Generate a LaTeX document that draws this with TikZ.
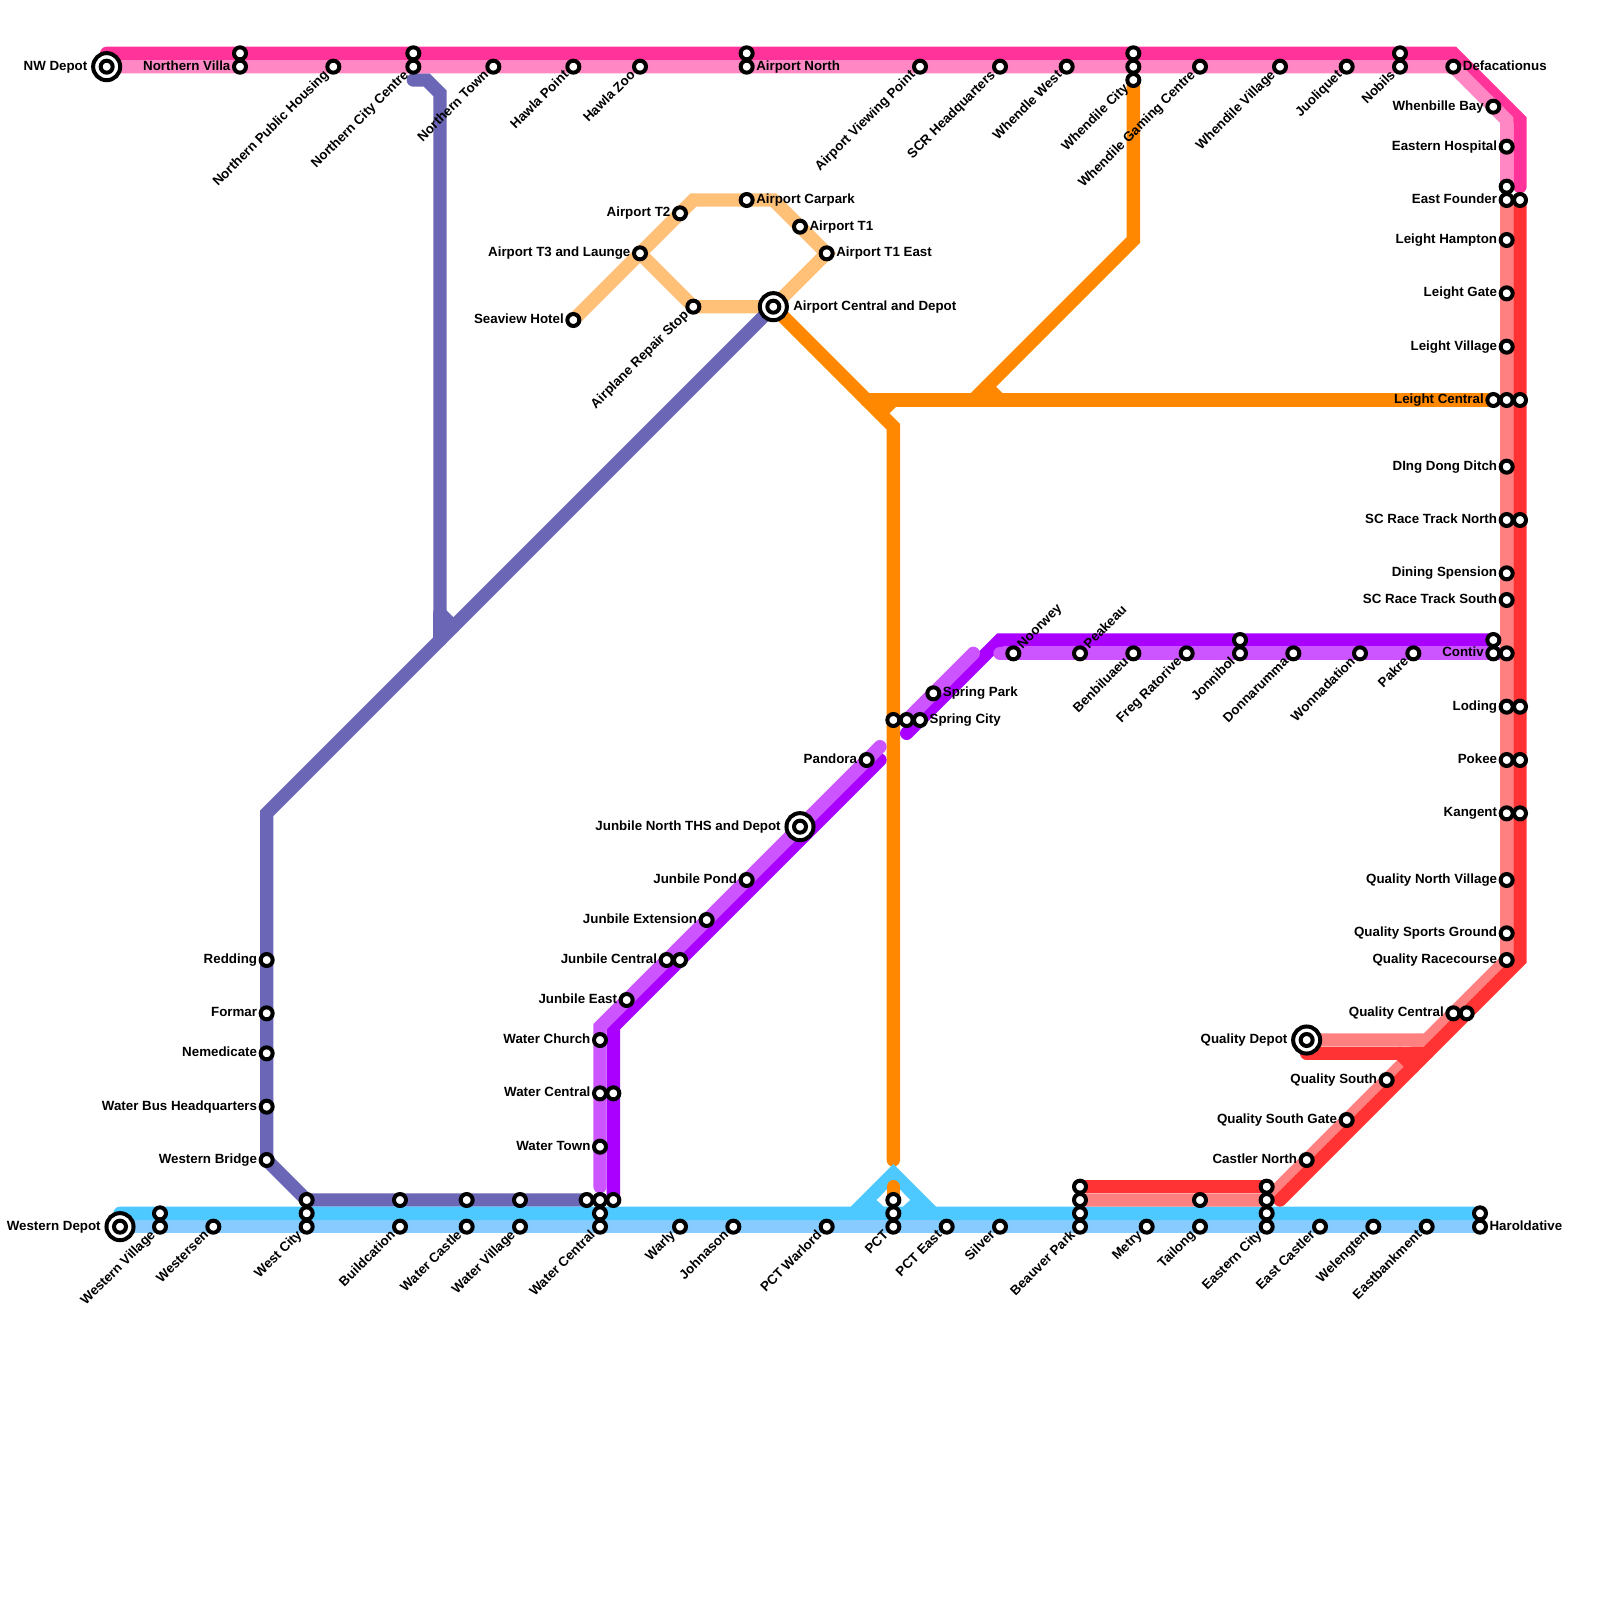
\documentclass[tikz,border=0pt]{standalone}
\usepackage{fontspec}
\setmainfont{Liberation Sans}
\pgfdeclarelayer{bg}
\pgfsetlayers{bg,main}
\definecolor{pinkD}{HTML}{FF3399}
\definecolor{pinkL}{HTML}{FF88C4}
\definecolor{redD}{HTML}{FF3333}
\definecolor{redL}{HTML}{FF8080}
\definecolor{blueD}{HTML}{4DC9FF}
\definecolor{blueL}{HTML}{88CCFF}
\definecolor{indigo}{HTML}{6B66B5}
\definecolor{orangeD}{HTML}{FF8800}
\definecolor{orangeL}{HTML}{FFC077}
\definecolor{violetD}{HTML}{AA00FF}
\definecolor{violetL}{HTML}{CC55FF}
\tikzset{
  metro/.style={line width=10pt,line cap=round,miter limit=10},
  stn/.style={circle,draw=black,fill=white,line width=3pt,minimum size=9pt,inner sep=0pt,outer sep=0pt},
  bigstn/.style={circle,draw=black,fill=white,line width=3pt,minimum size=20.3pt,inner sep=0pt,outer sep=0pt},
  lab/.style={font=\fontsize{10}{12}\selectfont\bfseries,text=black,inner sep=0pt,outer sep=0pt}
}
% plain station
\newcommand\St[3]{\node[stn] (#1) at (#2,#3) {};}
% station with label left / right / down-left (rotated) / up-right (rotated)
\newcommand\SL[4]{\St{#1}{#2}{#3}\node[lab,anchor=mid east] (#1t) at ([shift={(-.72,0)}]#1.center) {#4};}
\newcommand\SR[4]{\St{#1}{#2}{#3}\node[lab,anchor=mid west] (#1t) at ([shift={(.72,0)}]#1.center) {#4};}
\newcommand\SD[4]{\St{#1}{#2}{#3}\node[lab,anchor=mid east,rotate=45] (#1t) at ([shift={(-.5,.5)}]#1.center) {#4};}
\newcommand\SU[4]{\St{#1}{#2}{#3}\node[lab,anchor=mid west,rotate=45] (#1t) at ([shift={(.5,-.5)}]#1.center) {#4};}
% depot: large ring with small ring inside
\newcommand\DepRing[3]{\node[bigstn] (#1o) at (#2,#3) {};\St{#1}{#2}{#3}}
\begin{document}
\begin{tikzpicture}[x=10pt,y=-10pt]
\useasboundingbox (0,0) rectangle (120,120);
% ---------- top row
\DepRing{nw}{8}{5}\node[lab,anchor=mid east] (nwt) at ([shift={(-1.45,0)}]nw.center) {NW Depot};
\St{nva}{18}{4}\SL{nvb}{18}{5}{Northern Villa}
\SD{nph}{25}{5}{Northern Public Housing}
\St{ncca}{31}{4}\SD{nccb}{31}{5}{Northern City Centre}
\SD{nto}{37}{5}{Northern Town}
\SD{hpo}{43}{5}{Hawla Point}
\SD{hzo}{48}{5}{Hawla Zoo}
\St{ana}{56}{4}\SR{anb}{56}{5}{Airport North}
\SD{avp}{69}{5}{Airport Viewing Point}
\SD{scr}{75}{5}{SCR Headquarters}
\SD{wwe}{80}{5}{Whendle West}
\St{wca}{85}{4}\St{wcb}{85}{5}\SD{wcc}{85}{6}{Whendile City}
\SD{wgc}{90}{5}{Whendile Gaming Centre}
\SD{wvi}{96}{5}{Whendile Village}
\SD{juo}{101}{5}{Juoliquet}
\St{noa}{105}{4}\SD{nob}{105}{5}{Nobils}
\SR{def}{109}{5}{Defacationus}
% ---------- east side
\SL{wby}{112}{8}{Whenbille Bay}
\SL{ehs}{113}{11}{Eastern Hospital}
\St{efa}{113}{14}\SL{efb}{113}{15}{East Founder}\St{efc}{114}{15}
\SL{lha}{113}{18}{Leight Hampton}
\SL{lga}{113}{22}{Leight Gate}
\SL{lvi}{113}{26}{Leight Village}
\SL{lca}{112}{30}{Leight Central}\St{lcb}{113}{30}\St{lcc}{114}{30}
\SL{ddd}{113}{35}{DIng Dong Ditch}
\SL{srna}{113}{39}{SC Race Track North}\St{srnb}{114}{39}
\SL{dsp}{113}{43}{Dining Spension}
\SL{srs}{113}{45}{SC Race Track South}
\St{cona}{112}{48}\SL{conb}{112}{49}{Contiv}\St{conc}{113}{49}
\SL{loda}{113}{53}{Loding}\St{lodb}{114}{53}
\SL{poka}{113}{57}{Pokee}\St{pokb}{114}{57}
\SL{kana}{113}{61}{Kangent}\St{kanb}{114}{61}
\SL{qnv}{113}{66}{Quality North Village}
\SL{qsg}{113}{70}{Quality Sports Ground}
\SL{qrc}{113}{72}{Quality Racecourse}
\SL{qca}{109}{76}{Quality Central}\St{qcb}{110}{76}
\DepRing{qd}{98}{78}\node[lab,anchor=mid east] (qdt) at ([shift={(-1.45,0)}]qd.center) {Quality Depot};
\SL{qso}{104}{81}{Quality South}
\SL{qsga}{101}{84}{Quality South Gate}
\SL{cno}{98}{87}{Castler North}
% ---------- bottom rows
\DepRing{wd}{9}{92}\node[lab,anchor=mid east] (wdt) at ([shift={(-1.45,0)}]wd.center) {Western Depot};
\St{wvla}{12}{91}\SD{wvlb}{12}{92}{Western Village}
\SD{wse}{16}{92}{Westersen}
\St{wca1}{23}{90}\St{wca2}{23}{91}\SD{wca3}{23}{92}{West City}
\St{bua}{30}{90}\SD{bub}{30}{92}{Buildcation}
\St{wcsa}{35}{90}\SD{wcsb}{35}{92}{Water Castle}
\St{wvga}{39}{90}\SD{wvgb}{39}{92}{Water Village}
\St{wcn0}{44}{90}\St{wcn1}{45}{90}\St{wcn2}{46}{90}\St{wcn3}{45}{91}\SD{wcn4}{45}{92}{Water Central}
\SD{war}{51}{92}{Warly}
\SD{joh}{55}{92}{Johnason}
\SD{pwa}{62}{92}{PCT Warlord}
\St{pcta}{67}{90}\St{pctb}{67}{91}\SD{pctc}{67}{92}{PCT}
\SD{pce}{71}{92}{PCT East}
\SD{sil}{75}{92}{Silver}
\St{bpa}{81}{89}\St{bpb}{81}{90}\St{bpc}{81}{91}\SD{bpd}{81}{92}{Beauver Park}
\SD{met}{86}{92}{Metry}
\St{taa}{90}{90}\SD{tab}{90}{92}{Tailong}
\St{eca}{95}{89}\St{ecb}{95}{90}\St{ecc}{95}{91}\SD{ecd}{95}{92}{Eastern City}
\SD{eca2}{99}{92}{East Castler}
\SD{wel}{103}{92}{Welengten}
\SD{eba}{107}{92}{Eastbankment}
\St{hara}{111}{91}\SR{harb}{111}{92}{Haroldative}
% ---------- west branch
\SL{red}{20}{72}{Redding}
\SL{for}{20}{76}{Formar}
\SL{nem}{20}{79}{Nemedicate}
\SL{wbh}{20}{83}{Water Bus Headquarters}
\SL{wbr}{20}{87}{Western Bridge}
% ---------- junbile
\SL{wch}{45}{78}{Water Church}
\SL{wcea}{45}{82}{Water Central}\St{wceb}{46}{82}
\SL{wto}{45}{86}{Water Town}
\SL{jea}{47}{75}{Junbile East}
\SL{jca}{50}{72}{Junbile Central}\St{jcb}{51}{72}
\SL{jex}{53}{69}{Junbile Extension}
\SL{jpo}{56}{66}{Junbile Pond}
\DepRing{jn}{60}{62}\node[lab,anchor=mid east] (jnt) at ([shift={(-1.45,0)}]jn.center) {Junbile North THS and Depot};
\SL{pan}{65}{57}{Pandora}
\St{sca}{67}{54}\St{scb}{68}{54}\SR{scc}{69}{54}{Spring City}
\SR{spa}{70}{52}{Spring Park}
\SU{noo}{76}{49}{Noorwey}
\SU{pea}{81}{49}{Peakeau}
\SD{ben}{85}{49}{Benbiluaeu}
\SD{fre}{89}{49}{Freg Ratorive}
\St{joa}{93}{48}\SD{job}{93}{49}{Jonnibol}
\SD{don}{97}{49}{Donnarumma}
\SD{won}{102}{49}{Wonnadation}
\SD{pak}{106}{49}{Pakre}
% ---------- airport
\SR{aca}{56}{15}{Airport Carpark}
\SL{at2}{51}{16}{Airport T2}
\SL{at3}{48}{19}{Airport T3 and Launge}
\SL{sea}{43}{24}{Seaview Hotel}
\SD{ars}{52}{23}{Airplane Repair Stop}
\DepRing{ac}{58}{23}\node[lab,anchor=mid west] (act) at ([shift={(1.5,0)}]ac.center) {Airport Central and Depot};
\SR{at1}{60}{17}{Airport T1}
\SR{ate}{62}{19}{Airport T1 East}
% ---------- bends and free ends
\coordinate (c1) at (8,4);\coordinate (c2) at (109,4);\coordinate (c3) at (114,9);\coordinate (c4) at (114,14);
\coordinate (c5) at (113,9);
\coordinate (c6) at (114,72);\coordinate (c7) at (96,90);\coordinate (c8) at (95,90);
\coordinate (c9) at (98,79);\coordinate (c10) at (107,79);\coordinate (c11) at (107,78);
\coordinate (c12) at (105,79);\coordinate (c13) at (106,80);
\coordinate (d1) at (9,91);\coordinate (d2) at (64,91);\coordinate (d3) at (67,88);\coordinate (d4) at (70,91);
\coordinate (e1) at (31,6);\coordinate (e2) at (32,6);\coordinate (e3) at (33,7);\coordinate (e4) at (33,46);\coordinate (e5) at (34,47);\coordinate (e6) at (33,48);
\coordinate (e7) at (20,61);\coordinate (e8) at (23,90);
\coordinate (f1) at (66,31);\coordinate (f2) at (67,32);\coordinate (f3) at (67,87);\coordinate (f4) at (65,30);\coordinate (f5) at (67,30);
\coordinate (f6) at (85,18);\coordinate (f7) at (73,30);\coordinate (f8) at (74,29);\coordinate (f9) at (75,30);
\coordinate (f10) at (67,89);
\coordinate (g1) at (52,15);\coordinate (g2) at (58,15);\coordinate (g3) at (52,23);
\coordinate (h1) at (66,56);\coordinate (h2) at (45,77);\coordinate (h3) at (45,89);
\coordinate (h4) at (66,57);\coordinate (h5) at (46,77);
\coordinate (h6) at (73,49);\coordinate (h7) at (75,49);
\coordinate (h8) at (68,55);\coordinate (h9) at (75,48);
% ---------- lines
\begin{pgfonlayer}{bg}
\draw[metro,color=orangeL] (sea.center) -- (g1) -- (g2) -- (ate.center) -- (ac.center) -- (g3) -- (at3.center);
\draw[metro,color=orangeD] (ac.center) -- (f1) -- (f2) -- (f3);
\draw[metro,color=orangeD] (f4) -- (lca.center);
\draw[metro,color=orangeD] (f1) -- (f5);
\draw[metro,color=orangeD] (wcc.center) -- (f6) -- (f7);
\draw[metro,color=orangeD] (f8) -- (f9);
\draw[metro,color=indigo] (e1) -- (e2) -- (e3) -- (e4) -- (e5);
\draw[metro,color=indigo] (e4) -- (e6);
\draw[metro,color=indigo] (ac.center) -- (e7) -- (wbr.center) -- (e8) -- (wcn0.center);
\draw[metro,color=blueL] (wd.center) -- (harb.center);
\draw[metro,color=blueD] (d1) -- (d2) -- (d3) -- (d4) -- (hara.center);
\draw[metro,color=blueD] (d2) -- (d4);
\fill[blueD] (d2) -- (d3) -- (d4) -- cycle;
\fill[white] (67,88.7) -- (65.75,90) -- (66.3,90.5) -- (67.7,90.5) -- (68.25,90) -- cycle;
\draw[metro,color=orangeD] (f10) -- (pcta.center);
\draw[metro,color=violetD] (h4) -- (h5) -- (wcn2.center);
\draw[metro,color=violetD] (h8) -- (h9) -- (cona.center);
\draw[metro,color=violetL] (h1) -- (h2) -- (h3);
\draw[metro,color=violetL] (scb.center) -- (h6);
\draw[metro,color=violetL] (h7) -- (conc.center);
\draw[metro,color=pinkD] (c1) -- (c2) -- (c3) -- (c4);
\draw[metro,color=pinkL] (nw.center) -- (def.center) -- (c5) -- (efa.center);
\draw[metro,color=redL] (efb.center) -- (qrc.center) -- (c8) -- (bpb.center);
\draw[metro,color=redL] (qd.center) -- (c11) -- (qca.center);
\draw[metro,color=redD] (efc.center) -- (c6) -- (c7);
\draw[metro,color=redD] (bpa.center) -- (eca.center);
\draw[metro,color=redD] (c9) -- (c10);
\draw[metro,color=redD] (c12) -- (c13);
\end{pgfonlayer}
\end{tikzpicture}
\end{document}
